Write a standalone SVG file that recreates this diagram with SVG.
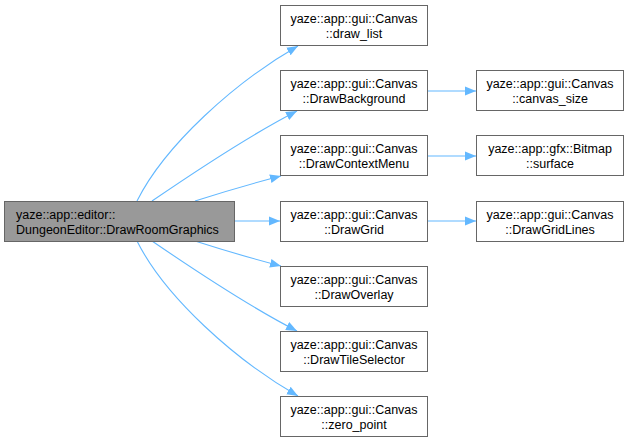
<svg xmlns="http://www.w3.org/2000/svg" width="629" height="443" viewBox="0 0 629 443">
<style>
.n rect{fill:#fff;stroke:#666;stroke-width:1}
.m rect{fill:#999;stroke:#666;stroke-width:1}
text{font-family:"Liberation Sans",Arial,sans-serif;font-size:12.5px;fill:#000}
.c{text-anchor:middle}
.e path{fill:none;stroke:#63b8ff;stroke-width:1.1}
</style>
<defs>
<marker id="ah" viewBox="0 0 11 10" refX="11" refY="5" markerWidth="11" markerHeight="10" markerUnits="userSpaceOnUse" orient="auto">
<path d="M0,0.6 L11,5 L0,9.4 Z" fill="#63b8ff" stroke="none"/>
</marker>
</defs>
<g class="e" id="edges">
<path d="M137,201 C165,145 235,82 298,46" marker-end="url(#ah)"/>
<path d="M152,201 C190,175 250,135 297,111" marker-end="url(#ah)"/>
<path d="M195,201 C220,193 250,184 281,176" marker-end="url(#ah)"/>
<path d="M234,221 L280,221" marker-end="url(#ah)"/>
<path d="M195,241 C220,249 250,258 281,266" marker-end="url(#ah)"/>
<path d="M152,241 C190,267 250,307 297,331" marker-end="url(#ah)"/>
<path d="M137,241 C165,297 235,360 298,396" marker-end="url(#ah)"/>
<path d="M427,91 L476,91" marker-end="url(#ah)"/>
<path d="M427,156 L476,156" marker-end="url(#ah)"/>
<path d="M427,221 L476,221" marker-end="url(#ah)"/>
</g>
<g id="main" class="m"><rect x="4.5" y="201.5" width="230" height="40"/><text x="16" y="218.5">yaze::app::editor::</text><text x="16" y="233.5">DungeonEditor::DrawRoomGraphics</text></g>
<g id="draw_list" class="n"><rect x="280.5" y="5.5" width="147" height="40"/><text class="c" x="354" y="22.5">yaze::app::gui::Canvas</text><text class="c" x="354" y="37.5">::draw_list</text></g>
<g id="DrawBackground" class="n"><rect x="280.5" y="70.5" width="147" height="40"/><text class="c" x="354" y="87.5">yaze::app::gui::Canvas</text><text class="c" x="354" y="102.5">::DrawBackground</text></g>
<g id="DrawContextMenu" class="n"><rect x="280.5" y="135.5" width="147" height="40"/><text class="c" x="354" y="152.5">yaze::app::gui::Canvas</text><text class="c" x="354" y="167.5">::DrawContextMenu</text></g>
<g id="DrawGrid" class="n"><rect x="280.5" y="201.5" width="147" height="40"/><text class="c" x="354" y="218.5">yaze::app::gui::Canvas</text><text class="c" x="354" y="233.5">::DrawGrid</text></g>
<g id="DrawOverlay" class="n"><rect x="280.5" y="266.5" width="147" height="40"/><text class="c" x="354" y="283.5">yaze::app::gui::Canvas</text><text class="c" x="354" y="298.5">::DrawOverlay</text></g>
<g id="DrawTileSelector" class="n"><rect x="280.5" y="331.5" width="147" height="40"/><text class="c" x="354" y="348.5">yaze::app::gui::Canvas</text><text class="c" x="354" y="363.5">::DrawTileSelector</text></g>
<g id="zero_point" class="n"><rect x="280.5" y="396.5" width="147" height="40"/><text class="c" x="354" y="413.5">yaze::app::gui::Canvas</text><text class="c" x="354" y="428.5">::zero_point</text></g>
<g id="canvas_size" class="n"><rect x="476.5" y="70.5" width="147" height="40"/><text class="c" x="550" y="87.5">yaze::app::gui::Canvas</text><text class="c" x="550" y="102.5">::canvas_size</text></g>
<g id="surface" class="n"><rect x="476.5" y="135.5" width="147" height="40"/><text class="c" x="550" y="152.5">yaze::app::gfx::Bitmap</text><text class="c" x="550" y="167.5">::surface</text></g>
<g id="DrawGridLines" class="n"><rect x="476.5" y="201.5" width="147" height="40"/><text class="c" x="550" y="218.5">yaze::app::gui::Canvas</text><text class="c" x="550" y="233.5">::DrawGridLines</text></g>
</svg>
